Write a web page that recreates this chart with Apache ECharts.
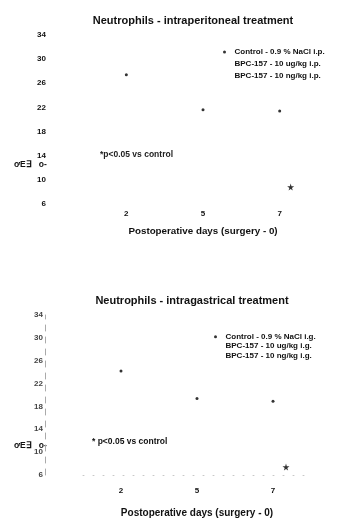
<!DOCTYPE html>
<html>
<head>
<meta charset="utf-8">
<script src="https://cdn.jsdelivr.net/npm/echarts@6/dist/echarts.min.js"></script>
<style>
  html, body { margin: 0; padding: 0; background: #fff; }
  #chart { width: 344px; height: 519px; }
</style>
</head>
<body>
<div id="chart"></div>
<script>
// postoperative days, same for both panels
const days = ['2', '5', '7']

// intraperitoneal panel
const ipControl = [27.4, 21.6, 21.4]
const ipBpcUg = [null, null, 8.8]
const ipBpcNg = [null, null, null]

// intragastrical panel
const igControl = [24.2, 19.4, 18.9]
const igBpcUg = [null, null, 7.4]
const igBpcNg = [null, null, null]

const ipNames = ['Control - 0.9 % NaCl i.p.', 'BPC-157 - 10 ug/kg i.p.', 'BPC-157 - 10 ng/kg i.p.']
const igNames = ['Control - 0.9 % NaCl i.g.', 'BPC-157 - 10 ug/kg i.g.', 'BPC-157 - 10 ng/kg i.g.']

const FONT = '"Liberation Sans", Arial, sans-serif'
const starPath = 'path://M50 0 L61 35 L98 35 L68 57 L79 91 L50 70 L21 91 L32 57 L2 35 L39 35 Z'

const chart = echarts.init(document.getElementById('chart'))

const legendItems = (names) => names.map((n, i) => i === 0
    ? {name: n, icon: 'circle', itemStyle: {color: '#000'}}
    : {name: n, icon: 'circle', itemStyle: {color: 'rgba(0,0,0,0)'}})

const xAxisBase = (gridIndex, labelMargin, nameGap, nameSize, showLine) => ({
    type: 'category',
    gridIndex,
    data: days,
    boundaryGap: true,
    axisTick: {show: false},
    axisLine: {show: showLine, lineStyle: {color: '#c8c8c8', type: [1, 9]}},
    axisLabel: {margin: labelMargin, fontSize: 8, fontWeight: 'bold', color: '#111', fontFamily: FONT},
    name: 'Postoperative days (surgery - 0)',
    nameLocation: 'middle',
    nameGap,
    nameTextStyle: {fontSize: nameSize, fontWeight: 'bold', color: '#111', fontFamily: FONT}
})

const yAxisBase = (gridIndex, offset, showLine, labelColor) => ({
    type: 'value',
    gridIndex,
    min: 6,
    max: 34,
    interval: 4,
    offset,
    splitLine: {show: false},
    axisTick: {show: false},
    axisLine: {show: showLine, lineStyle: {color: '#aaa', type: [6, 6]}},
    axisLabel: {margin: 2, fontSize: 8, fontWeight: 'bold', color: labelColor, fontFamily: FONT}
})

const controlSeries = (name, data, idx) => ({
    name, type: 'scatter', xAxisIndex: idx, yAxisIndex: idx,
    data, symbol: 'circle', symbolSize: 3,
    itemStyle: {color: '#000'}
})

const starSeries = (name, data, idx, dx) => ({
    name, type: 'scatter', xAxisIndex: idx, yAxisIndex: idx,
    data, symbol: starPath, symbolSize: 7, symbolOffset: [dx, 0],
    itemStyle: {color: '#000'}
})

const option = {
    backgroundColor: '#fff',
    animation: false,
    title: [
        {
            text: 'Neutrophils - intraperitoneal treatment',
            left: 188, top: 10, textAlign: 'center',
            textStyle: {fontSize: 11, fontWeight: 'bold', color: '#111', fontFamily: FONT}
        },
        {
            text: 'Neutrophils - intragastrical treatment',
            left: 187, top: 290, textAlign: 'center',
            textStyle: {fontSize: 11, fontWeight: 'bold', color: '#111', fontFamily: FONT}
        }
    ],
    legend: [
        {
            orient: 'vertical', left: 218, top: 42,
            itemWidth: 10, itemHeight: 3, itemGap: 2,
            selectedMode: false,
            textStyle: {fontSize: 8, fontWeight: 'bold', color: '#111', lineHeight: 10, fontFamily: FONT},
            data: legendItems(ipNames)
        },
        {
            orient: 'vertical', left: 209, top: 327,
            itemWidth: 10, itemHeight: 3, itemGap: 0,
            selectedMode: false,
            textStyle: {fontSize: 8, fontWeight: 'bold', color: '#111', lineHeight: 9.5, fontFamily: FONT},
            data: legendItems(igNames)
        }
    ],
    grid: [
        {left: 88, top: 35, width: 230, height: 169},
        {left: 83, top: 315, width: 228, height: 163}
    ],
    xAxis: [
        xAxisBase(0, 6, 22, 9.8, false),
        xAxisBase(1, 12, 33, 10, true)
    ],
    yAxis: [
        yAxisBase(0, 40, false, '#111'),
        yAxisBase(1, 38, true, '#444')
    ],
    graphic: [
        {type: 'text', left: 100, top: 150,
            style: {text: '*p<0.05 vs control', font: 'bold 8.5px ' + FONT, fill: '#222'}},
        {type: 'text', left: 92, top: 437,
            style: {text: '* p<0.05 vs control', font: 'bold 8.5px ' + FONT, fill: '#111'}},
        {type: 'text', left: 14, top: 160,
            style: {text: 'ơE∃   o-', font: 'bold 8.5px ' + FONT, fill: '#111'}},
        {type: 'text', left: 14, top: 441,
            style: {text: 'ơE∃   o-', font: 'bold 8.5px ' + FONT, fill: '#111'}}
    ],
    series: [
        controlSeries(ipNames[0], ipControl, 0),
        starSeries(ipNames[1], ipBpcUg, 0, 11),
        starSeries(ipNames[2], ipBpcNg, 0, 11),
        controlSeries(igNames[0], igControl, 1),
        starSeries(igNames[1], igBpcUg, 1, 13),
        starSeries(igNames[2], igBpcNg, 1, 13)
    ]
}

chart.setOption(option)
</script>
</body>
</html>
